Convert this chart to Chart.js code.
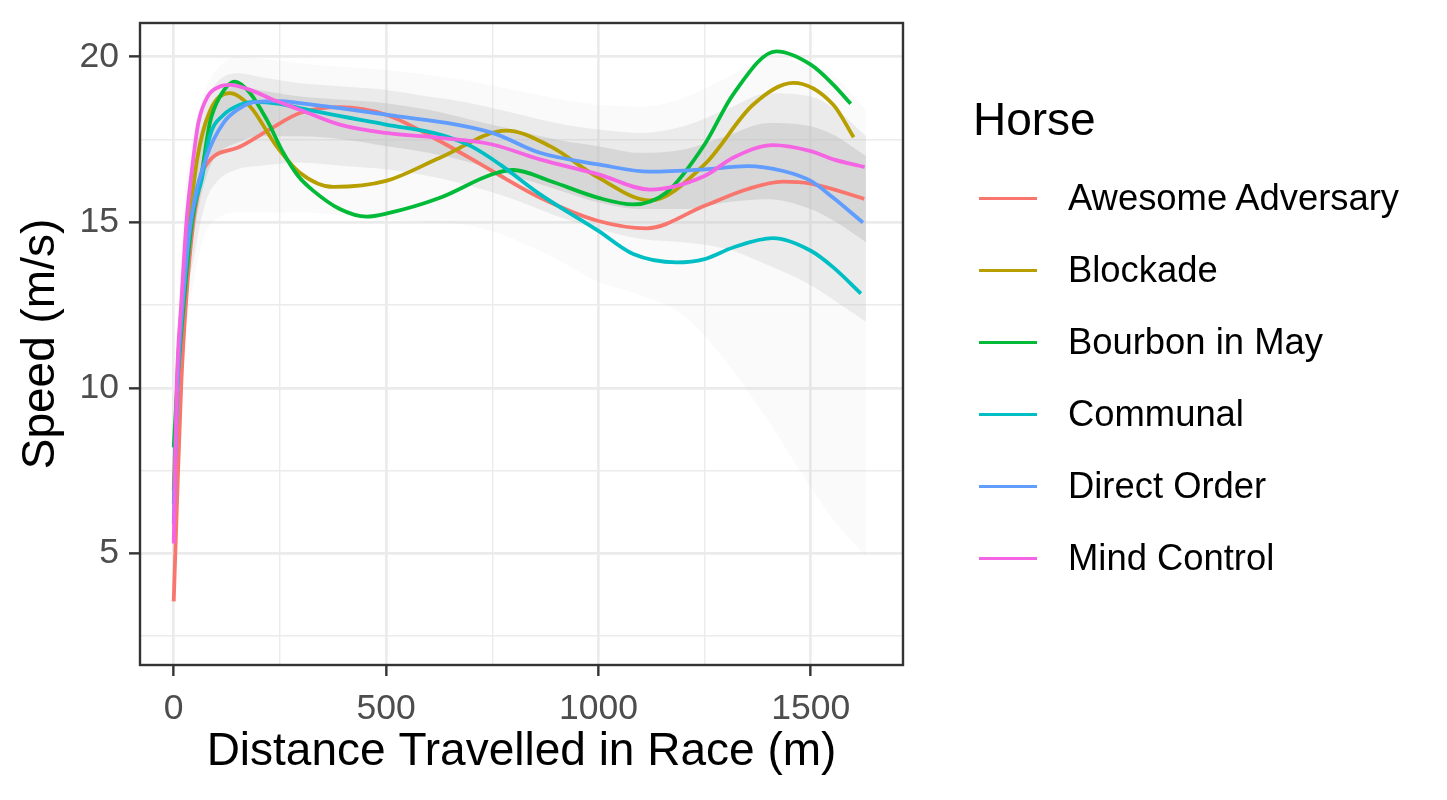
<!DOCTYPE html>
<html lang="en">
<head>
<meta charset="UTF-8">
<title>Horse speed over race distance</title>
<style>
    body {
        margin: 0;
        background: #ffffff;
        font-family: 'Liberation Sans', Arial, sans-serif;
    }

    #wrap {
        position: relative;
        width: 1447px;
        height: 800px;
    }

    .legend-title {
        position: absolute;
        left: 973px;
        top: 96px;
        font-size: 46px;
        line-height: 1;
        color: #000;
        white-space: nowrap;
    }

    .legend-item {
        position: absolute;
        left: 979px;
        height: 72px;
        display: flex;
        align-items: center;
        white-space: nowrap;
    }

    .legend-key {
        width: 58px;
        height: 3.6px;
        margin-right: 31px;
    }

    .legend-label {
        font-size: 36.4px;
        line-height: 1;
        color: #000;
    }
</style>
</head>
<body>
<div id="wrap">
    <canvas id="speedChart" width="1447" height="800"></canvas>
    <div id="legend"></div>
</div>

<script src="https://cdn.jsdelivr.net/npm/chart.js"></script>
<script>
    // horses and colours (ggplot default hue palette)
    const horses = ['Awesome Adversary', 'Blockade', 'Bourbon in May', 'Communal', 'Direct Order', 'Mind Control'];
    const horseColours = ['#F8766D', '#B79F00', '#00BA38', '#00BFC4', '#619CFF', '#F564E3'];

    // smoothed speed curves
    const awesomeDist = [0, 8, 18, 29, 46, 58, 70, 150, 225, 297, 390, 500, 627, 750, 862, 1000, 1113, 1250, 1350, 1434, 1500, 1626];
    const awesomeSpeed = [3.55, 6.65, 10.2, 12.6, 15.0, 15.9, 16.6, 17.25, 17.8, 18.3, 18.48, 18.25, 17.45, 16.55, 15.75, 15.04, 14.82, 15.5, 16.0, 16.23, 16.17, 15.71];

    const blockadeDist = [0, 8, 20, 37, 55, 85, 132, 180, 242, 297, 376, 500, 627, 784, 886, 1000, 1121, 1250, 1364, 1459, 1553, 1601];
    const blockadeSpeed = [6.9, 10.2, 12.7, 15.0, 16.9, 18.35, 18.9, 18.5, 17.3, 16.5, 16.07, 16.25, 16.95, 17.77, 17.3, 16.35, 15.66, 16.75, 18.55, 19.21, 18.55, 17.57];

    const bourbonDist = [0, 9, 24, 43, 66, 85, 109, 144, 180, 219, 258, 293, 329, 391, 454, 500, 627, 750, 800, 886, 1000, 1082, 1160, 1250, 1317, 1419, 1500, 1553, 1594];
    const bourbonSpeed = [8.2, 10.2, 12.6, 15.0, 16.5, 18.0, 18.8, 19.25, 18.9, 18.1, 17.1, 16.4, 15.95, 15.4, 15.17, 15.26, 15.74, 16.45, 16.58, 16.25, 15.74, 15.54, 15.9, 17.35, 18.86, 20.16, 19.76, 19.16, 18.58];

    const communalDist = [0, 9, 22, 40, 66, 85, 117, 156, 187, 250, 297, 500, 627, 700, 768, 862, 1000, 1082, 1184, 1250, 1317, 1411, 1500, 1553, 1618];
    const communalSpeed = [6.5, 10.2, 12.7, 15.0, 16.3, 17.6, 18.24, 18.55, 18.64, 18.58, 18.45, 17.95, 17.65, 17.3, 16.75, 15.85, 14.74, 14.04, 13.79, 13.89, 14.24, 14.52, 14.14, 13.64, 12.85];

    const directDist = [0, 9, 22, 40, 78, 117, 156, 195, 250, 297, 500, 750, 862, 1000, 1121, 1250, 1350, 1435, 1500, 1553, 1623];
    const directSpeed = [5.9, 10.2, 12.7, 15.0, 17.0, 18.0, 18.45, 18.64, 18.66, 18.6, 18.25, 17.7, 17.1, 16.75, 16.53, 16.6, 16.7, 16.55, 16.25, 15.74, 14.99];

    const mindDist = [0, 7, 18, 30, 43, 58, 80, 109, 132, 180, 234, 297, 391, 500, 627, 750, 862, 1000, 1121, 1250, 1317, 1411, 1500, 1553, 1627];
    const mindSpeed = [5.3, 10.0, 12.6, 15.0, 16.6, 18.0, 18.8, 19.1, 19.15, 19.0, 18.7, 18.4, 17.95, 17.7, 17.55, 17.35, 16.9, 16.45, 15.99, 16.4, 16.95, 17.33, 17.15, 16.9, 16.67];

    // envelopes of the faint grey curves of all other horses
    const greyDist = [0, 25, 50, 75, 100, 150, 200, 300, 400, 500, 600, 700, 800, 900, 1000, 1100, 1200, 1300, 1400, 1500, 1560, 1630];
    const outerHigh = [9.5, 15.6, 17.9, 19.0, 19.6, 20.0, 19.95, 19.8, 19.7, 19.6, 19.45, 19.25, 19.0, 18.75, 18.55, 18.5, 18.75, 19.35, 19.95, 19.75, 19.35, 18.4];
    const outerLow = [3.0, 10.8, 13.4, 14.7, 15.1, 15.3, 15.3, 15.3, 15.2, 15.1, 15.0, 14.9, 14.5, 13.9, 13.2, 12.8, 12.2, 10.8, 9.0, 7.0, 5.9, 4.9];
    const midHigh = [8.0, 14.8, 17.4, 18.6, 19.2, 19.5, 19.4, 19.2, 19.1, 19.0, 18.8, 18.6, 18.3, 18.0, 17.8, 17.7, 17.9, 18.4, 18.9, 18.8, 18.4, 17.6];
    const midLow = [3.4, 11.6, 14.1, 15.6, 16.2, 16.6, 16.7, 16.8, 16.7, 16.6, 16.4, 16.1, 15.7, 15.2, 14.8, 14.5, 14.4, 14.2, 13.7, 13.1, 12.6, 12.0];
    const coreHigh = [7.0, 14.2, 17.0, 18.2, 18.8, 19.1, 19.0, 18.8, 18.7, 18.6, 18.4, 18.1, 17.8, 17.5, 17.3, 17.1, 17.2, 17.6, 18.0, 17.9, 17.6, 17.0];
    const coreLow = [4.0, 12.2, 14.8, 16.3, 17.0, 17.4, 17.6, 17.6, 17.5, 17.3, 17.1, 16.8, 16.4, 16.0, 15.6, 15.4, 15.4, 15.6, 15.7, 15.4, 15.0, 14.4];

    // axes
    const xGrid = [0, 250, 500, 750, 1000, 1250, 1500];
    const xLabels = [0, 500, 1000, 1500];
    const yGrid = [2.5, 5, 7.5, 10, 12.5, 15, 17.5, 20];
    const yLabels = [5, 10, 15, 20];

    const horseSeries = [
        [awesomeDist, awesomeSpeed],
        [blockadeDist, blockadeSpeed],
        [bourbonDist, bourbonSpeed],
        [communalDist, communalSpeed],
        [directDist, directSpeed],
        [mindDist, mindSpeed]
    ];

    function toPoints(xs, ys) {
        return xs.map((x, i) => ({ x: x, y: ys[i] }));
    }

    const datasets = [];

    function addBand(high, low, colour) {
        datasets.push({
            data: toPoints(greyDist, high),
            borderColor: 'rgba(0,0,0,0)',
            borderWidth: 0,
            backgroundColor: colour,
            fill: '+1',
            order: 100
        });
        datasets.push({
            data: toPoints(greyDist, low),
            borderColor: 'rgba(0,0,0,0)',
            borderWidth: 0,
            fill: false,
            order: 100
        });
    }

    addBand(outerHigh, outerLow, 'rgba(190,190,190,0.07)');
    addBand(midHigh, midLow, 'rgba(190,190,190,0.24)');
    addBand(coreHigh, coreLow, 'rgba(190,190,190,0.42)');

    horses.forEach((name, i) => {
        datasets.push({
            label: name,
            data: toPoints(horseSeries[i][0], horseSeries[i][1]),
            borderColor: horseColours[i],
            borderWidth: 3.8,
            fill: false,
            order: horses.length - i
        });
    });

    // box around the panel, like theme_bw
    const panelBorder = {
        id: 'panelBorder',
        afterDatasetsDraw(chart) {
            const { ctx, chartArea: a } = chart;
            ctx.save();
            ctx.strokeStyle = '#333333';
            ctx.lineWidth = 2.4;
            ctx.strokeRect(a.left, a.top, a.right - a.left, a.bottom - a.top);
            ctx.restore();
        }
    };

    // keep the panel exactly where the picture has it
    function noScalePadding(s) {
        s.paddingTop = 0;
        s.paddingBottom = 0;
        s.paddingLeft = 0;
        s.paddingRight = 0;
    }

    const fontFamily = "'Liberation Sans', Arial, sans-serif";

    new Chart(document.getElementById('speedChart'), {
        type: 'line',
        data: { datasets: datasets },
        options: {
            responsive: false,
            animation: false,
            devicePixelRatio: 1,
            layout: { padding: { left: 0, right: 544, top: 23, bottom: 0 } },
            elements: {
                point: { radius: 0 },
                line: { cubicInterpolationMode: 'monotone' }
            },
            plugins: {
                legend: { display: false },
                tooltip: { enabled: false }
            },
            scales: {
                x: {
                    type: 'linear',
                    min: -79.4,
                    max: 1717.2,
                    afterBuildTicks: s => { s.ticks = xGrid.map(v => ({ value: v })); },
                    afterFit: s => { s.height = 135; noScalePadding(s); },
                    border: { display: false },
                    grid: {
                        color: '#EBEBEB',
                        lineWidth: c => xLabels.includes(c.tick.value) ? 2.7 : 1.4,
                        tickLength: 11,
                        tickWidth: 2.4,
                        tickColor: c => xLabels.includes(c.tick.value) ? '#333333' : 'rgba(0,0,0,0)'
                    },
                    ticks: {
                        autoSkip: false,
                        maxRotation: 0,
                        padding: 12,
                        color: '#4D4D4D',
                        font: { family: fontFamily, size: 35.5 },
                        callback: v => xLabels.includes(v) ? String(v) : ''
                    },
                    title: {
                        display: true,
                        text: 'Distance Travelled in Race (m)',
                        color: '#000000',
                        font: { family: fontFamily, size: 46 },
                        padding: { top: 0, bottom: 20 }
                    }
                },
                y: {
                    type: 'linear',
                    min: 1.63,
                    max: 21.02,
                    afterBuildTicks: s => { s.ticks = yGrid.map(v => ({ value: v })); },
                    afterFit: s => { s.width = 140; noScalePadding(s); },
                    border: { display: false },
                    grid: {
                        color: '#EBEBEB',
                        lineWidth: c => yLabels.includes(c.tick.value) ? 2.7 : 1.4,
                        tickLength: 11,
                        tickWidth: 2.4,
                        tickColor: c => yLabels.includes(c.tick.value) ? '#333333' : 'rgba(0,0,0,0)'
                    },
                    ticks: {
                        autoSkip: false,
                        padding: 10,
                        color: '#4D4D4D',
                        font: { family: fontFamily, size: 35.5 },
                        callback: v => yLabels.includes(v) ? String(v) : ''
                    },
                    title: {
                        display: true,
                        text: 'Speed (m/s)',
                        color: '#000000',
                        font: { family: fontFamily, size: 46 },
                        padding: { top: 14, bottom: 0 }
                    }
                }
            }
        },
        plugins: [panelBorder]
    });

    // legend on the right
    const legend = document.getElementById('legend');
    const title = document.createElement('div');
    title.className = 'legend-title';
    title.textContent = 'Horse';
    legend.appendChild(title);

    horses.forEach((name, i) => {
        const item = document.createElement('div');
        item.className = 'legend-item';
        item.style.top = (162.5 + i * 72) + 'px';
        const key = document.createElement('div');
        key.className = 'legend-key';
        key.style.background = horseColours[i];
        const label = document.createElement('span');
        label.className = 'legend-label';
        label.textContent = name;
        item.appendChild(key);
        item.appendChild(label);
        legend.appendChild(item);
    });
</script>
</body>
</html>
